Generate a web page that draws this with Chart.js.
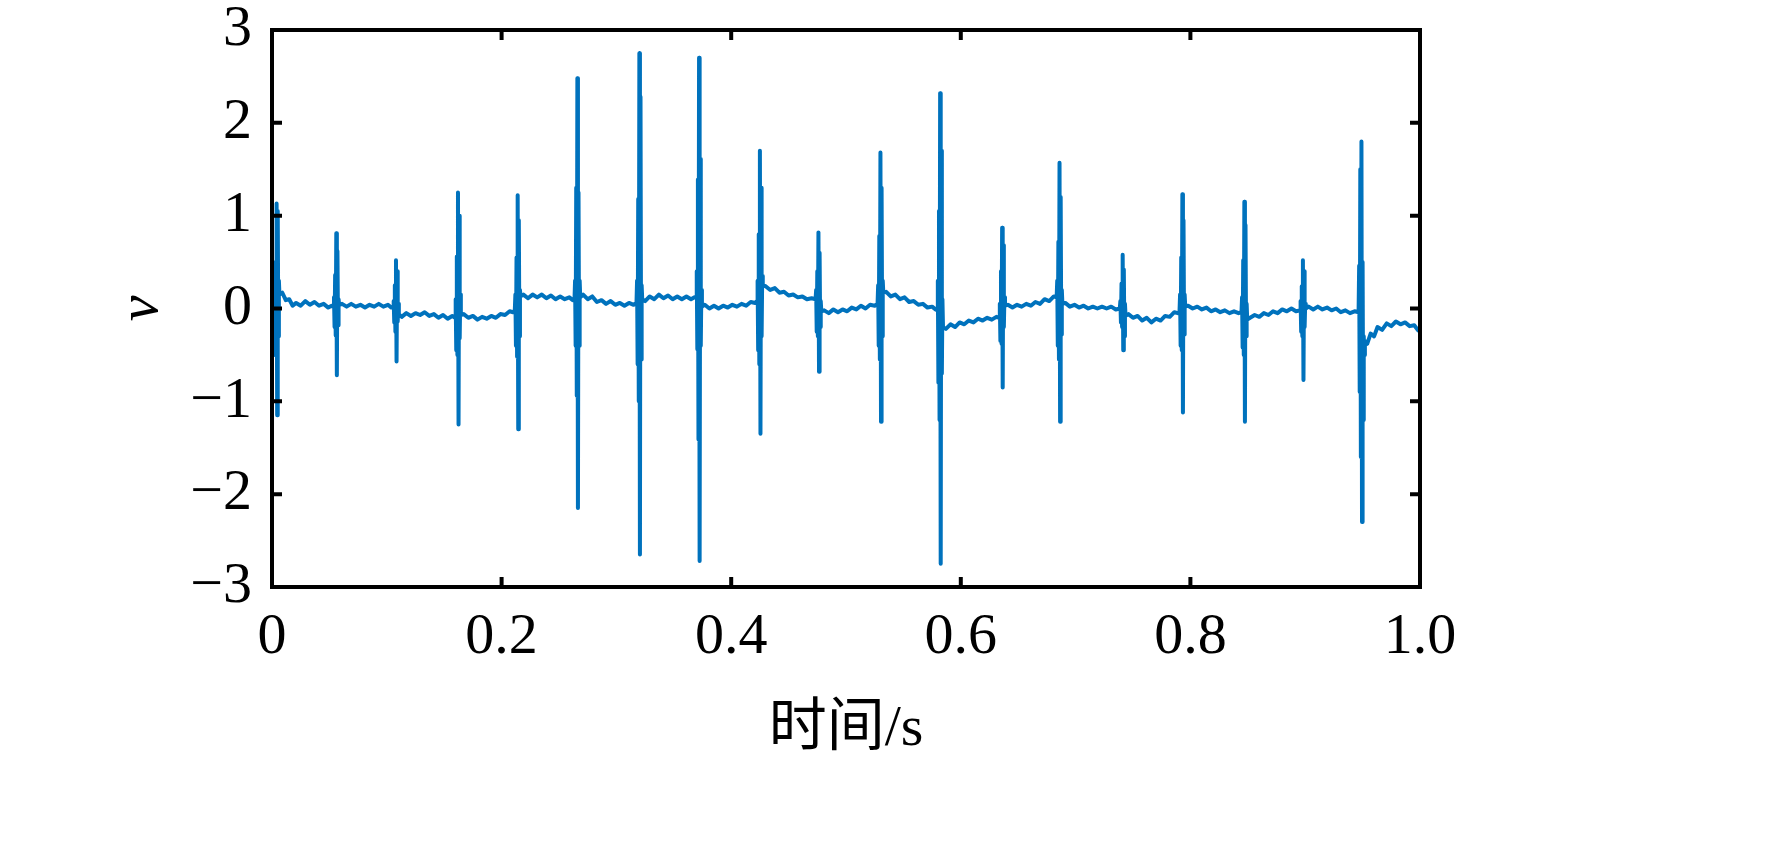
<!DOCTYPE html>
<html>
<head>
<meta charset="utf-8">
<script src="https://cdn.jsdelivr.net/npm/chart.js@4"></script>
<style>
  html, body { margin: 0; padding: 0; background: #fff; }
  #wrap { width: 1772px; height: 867px; }
</style>
</head>
<body>
<div id="wrap"><canvas id="c" width="1772" height="867"></canvas></div>
<script>
// ---- tick values / labels ----
const xTickValues = [0, 0.2, 0.4, 0.6, 0.8, 1.0];
const xTickLabels = ['0', '0.2', '0.4', '0.6', '0.8', '1.0'];
const yTickValues = [-3, -2, -1, 0, 1, 2, 3];
const yTickLabels = ['\u22123', '\u22122', '\u22121', '0', '1', '2', '3'];
const xTitle = '时间/s';
const yTitle = 'v';

// ---- signal samples [time s, amplitude] ----
const seg0 = [
  [0,-0.25],[0.001,-0.15],
  [0.0015,-0.1],[0.002,0.3],[0.0025,-0.5],[0.003,0.5],[0.0035,-0.45],[0.004,1.13],[0.0045,-1.15],[0.005,1.05],[0.0055,-0.3],[0.006,0.3],[0.0065,0.15],
  [0.009,0.17],[0.012,0.09],[0.015,0.1],[0.018,0.03],[0.021,0.06],[0.025,0.03],[0.029,0.08],[0.033,0.04],[0.037,0.07],[0.041,0.03],[0.045,0.05],[0.049,0.01],[0.052,0.03],
  [0.0535,0.02],[0.054,0.12],[0.0545,-0.2],[0.055,0.36],[0.0555,-0.29],[0.056,0.81],[0.0565,-0.72],[0.057,0.62],[0.0575,-0.18],[0.058,0.1],[0.0585,0.04],
  [0.061,0.05],[0.065,0.02],[0.069,0.05],[0.073,0.02],[0.077,0.04],[0.081,0.01],[0.085,0.04],[0.089,0.02],[0.093,0.05],[0.097,0.02],[0.101,0.04],[0.104,0.01],
  [0.1055,0.02],[0.106,0.08],[0.1065,-0.15],[0.107,0.25],[0.1075,-0.25],[0.108,0.52],[0.1085,-0.57],[0.109,0.4],[0.1095,-0.14],[0.11,0.05],[0.1105,-0.06],
  [0.113,-0.09],[0.117,-0.05],[0.121,-0.08],[0.125,-0.05],[0.129,-0.07],[0.133,-0.04],[0.137,-0.08],[0.141,-0.06],[0.145,-0.1],[0.149,-0.07],[0.153,-0.11],[0.157,-0.08],
  [0.1595,-0.1],[0.16,0.1],[0.1605,-0.45],[0.161,0.56],[0.1615,-0.5],[0.162,1.25],[0.1625,-1.25],[0.163,1.0],[0.1635,-0.32],[0.164,0.15],[0.1645,-0.07],
  [0.167,-0.06],[0.171,-0.1],[0.175,-0.08],[0.179,-0.12],[0.183,-0.09],[0.187,-0.11],[0.191,-0.08],[0.195,-0.1],[0.199,-0.06]
];
const seg1 = [
  [0.203,-0.07],[0.207,-0.03],[0.21,-0.04],
  [0.2115,-0.02],[0.212,0.15],[0.2125,-0.4],[0.213,0.55],[0.2135,-0.52],[0.214,1.22],[0.2145,-1.3],[0.215,0.95],[0.2155,-0.3],[0.216,0.2],[0.2165,0.13],
  [0.219,0.15],[0.223,0.11],[0.227,0.15],[0.231,0.12],[0.235,0.15],[0.239,0.11],[0.243,0.14],[0.247,0.1],[0.251,0.13],[0.255,0.1],[0.259,0.12],[0.262,0.09],
  [0.2635,0.1],[0.264,0.3],[0.2645,-0.4],[0.265,1.3],[0.2655,-0.94],[0.266,2.48],[0.2665,-2.15],[0.267,1.25],[0.2675,-0.4],[0.268,0.3],[0.2685,0.12],
  [0.271,0.15],[0.275,0.1],[0.279,0.13],[0.283,0.07],[0.287,0.09],[0.291,0.05],[0.295,0.08],[0.299,0.04],[0.303,0.06],[0.307,0.03],[0.311,0.06],[0.315,0.04],
  [0.3175,0.06],[0.318,0.3],[0.3185,-0.6],[0.319,1.18],[0.3195,-1.0],[0.32,2.75],[0.3205,-2.65],[0.321,2.28],[0.3215,-0.55],[0.322,0.25],[0.3225,0.1],
  [0.325,0.08],[0.329,0.13],[0.333,0.1],[0.337,0.15],[0.341,0.11],[0.345,0.14],[0.349,0.1],[0.353,0.13],[0.357,0.1],[0.361,0.13],[0.365,0.1],[0.368,0.12],
  [0.3695,0.12],[0.37,0.4],[0.3705,-0.44],[0.371,1.39],[0.3715,-1.41],[0.372,2.7],[0.3725,-2.72],[0.373,1.61],[0.3735,-0.4],[0.374,0.2],[0.3745,0.02],
  [0.377,0.04],[0.381,0.0],[0.385,0.03],[0.389,0.0],[0.393,0.03],[0.397,0.01]
];
const seg2 = [
  [0.401,0.04],[0.405,0.02],[0.409,0.05],[0.413,0.03],[0.417,0.07],[0.421,0.06],
  [0.4225,0.08],[0.423,0.3],[0.4235,-0.45],[0.424,0.8],[0.4245,-0.6],[0.425,1.7],[0.4255,-1.35],[0.426,1.3],[0.4265,-0.3],[0.427,0.35],[0.4275,0.25],
  [0.43,0.24],[0.434,0.2],[0.438,0.22],[0.442,0.17],[0.446,0.18],[0.45,0.14],[0.454,0.15],[0.458,0.12],[0.462,0.13],[0.466,0.1],[0.47,0.11],
  [0.4735,0.1],[0.474,0.2],[0.4745,-0.25],[0.475,0.4],[0.4755,-0.3],[0.476,0.82],[0.4765,-0.68],[0.477,0.6],[0.4775,-0.2],[0.478,0.08],[0.4785,-0.03],
  [0.481,-0.02],[0.485,-0.05],[0.489,-0.01],[0.493,-0.04],[0.497,-0.01],[0.501,-0.03],[0.505,0.01],[0.509,-0.01],[0.513,0.03],[0.517,0.0],[0.521,0.04],[0.525,0.03],
  [0.5275,0.05],[0.528,0.25],[0.5285,-0.4],[0.529,0.78],[0.5295,-0.55],[0.53,1.68],[0.5305,-1.22],[0.531,1.3],[0.5315,-0.3],[0.532,0.3],[0.5325,0.17],
  [0.535,0.18],[0.539,0.13],[0.543,0.15],[0.547,0.1],[0.551,0.12],[0.555,0.07],[0.559,0.08],[0.563,0.04],[0.567,0.05],[0.571,0.01],[0.575,0.02],[0.578,-0.01],
  [0.5795,-0.02],[0.58,0.3],[0.5805,-0.8],[0.581,1.05],[0.5815,-1.2],[0.582,2.32],[0.5825,-2.75],[0.583,1.7],[0.5835,-0.7],[0.584,0.1],[0.5845,-0.2],
  [0.587,-0.22],[0.591,-0.17],[0.595,-0.2],[0.599,-0.15]
];
const seg3 = [
  [0.603,-0.17],[0.607,-0.13],[0.611,-0.15],[0.615,-0.11],[0.619,-0.13],[0.623,-0.1],[0.627,-0.12],[0.631,-0.09],
  [0.6335,-0.1],[0.634,0.05],[0.6345,-0.35],[0.635,0.4],[0.6355,-0.38],[0.636,0.87],[0.6365,-0.85],[0.637,0.68],[0.6375,-0.2],[0.638,0.12],[0.6385,0.03],
  [0.641,0.04],[0.645,0.01],[0.649,0.04],[0.653,0.02],[0.657,0.05],[0.661,0.03],[0.665,0.07],[0.669,0.05],[0.673,0.1],[0.677,0.08],[0.681,0.13],
  [0.6835,0.12],[0.684,0.3],[0.6845,-0.4],[0.685,0.72],[0.6855,-0.55],[0.686,1.57],[0.6865,-1.22],[0.687,1.2],[0.6875,-0.28],[0.688,0.2],[0.6885,0.05],
  [0.691,0.06],[0.695,0.02],[0.699,0.04],[0.703,0.01],[0.707,0.03],[0.711,0.0],[0.715,0.02],[0.719,0.0],[0.723,0.02],[0.727,0.0],[0.731,0.02],[0.735,-0.01],
  [0.7385,0.0],[0.739,0.08],[0.7395,-0.15],[0.74,0.27],[0.7405,-0.2],[0.741,0.58],[0.7415,-0.45],[0.742,0.42],[0.7425,-0.3],[0.743,0.05],[0.7435,-0.08],
  [0.746,-0.06],[0.75,-0.1],[0.754,-0.08],[0.758,-0.13],[0.762,-0.1],[0.766,-0.15],[0.77,-0.11],[0.774,-0.13],[0.778,-0.08],[0.782,-0.09],[0.786,-0.04],[0.789,-0.05],
  [0.7905,-0.04],[0.791,0.15],[0.7915,-0.4],[0.792,0.55],[0.7925,-0.45],[0.793,1.23],[0.7935,-1.12],[0.794,0.95],[0.7945,-0.28],[0.795,0.15],[0.7955,0.02]
];
const seg4 = [
  [0.798,0.03],[0.802,0.0],[0.806,0.02],[0.81,-0.01],[0.814,0.01],[0.818,-0.03],[0.822,-0.01],[0.826,-0.04],[0.83,-0.02],[0.834,-0.05],[0.838,-0.03],[0.842,-0.05],
  [0.8445,-0.04],[0.845,0.12],[0.8455,-0.42],[0.846,0.52],[0.8465,-0.5],[0.847,1.15],[0.8475,-1.22],[0.848,0.9],[0.8485,-0.3],[0.849,0.05],[0.8495,-0.12],
  [0.852,-0.1],[0.856,-0.07],[0.86,-0.09],[0.864,-0.05],[0.868,-0.07],[0.872,-0.03],[0.876,-0.05],[0.88,-0.01],[0.884,-0.03],[0.888,0.0],[0.892,-0.03],
  [0.8955,-0.02],[0.896,0.08],[0.8965,-0.25],[0.897,0.24],[0.8975,-0.3],[0.898,0.52],[0.8985,-0.77],[0.899,0.4],[0.8995,-0.2],[0.9,0.05],[0.9005,0.0],
  [0.903,0.02],[0.907,-0.01],[0.911,0.02],[0.915,-0.01],[0.919,0.01],[0.923,-0.02],[0.927,0.0],[0.931,-0.04],[0.935,-0.02],[0.939,-0.05],[0.943,-0.03],
  [0.9465,-0.04],[0.947,0.46],[0.9475,-0.9],[0.948,1.5],[0.9485,-1.6],[0.949,1.8],[0.9495,-2.3],[0.95,0.5],[0.9505,-1.2],[0.951,-0.3],[0.9515,-0.5],[0.952,-0.35],
  [0.954,-0.38],[0.957,-0.27],[0.96,-0.3],[0.963,-0.2],[0.967,-0.23],[0.971,-0.16],[0.975,-0.19],[0.979,-0.14],[0.983,-0.17],[0.987,-0.15],[0.991,-0.19],[0.995,-0.18],[0.998,-0.23],[1.0,-0.25]
];

const points = [...seg0, ...seg1, ...seg2, ...seg3, ...seg4].map(([t, v]) => ({ x: t, y: v }));

const SERIF = "'Liberation Serif', 'Times New Roman', 'Noto Sans CJK SC', serif";
const tickFont = { family: SERIF, size: 58, lineHeight: 1 };

// inward ticks and box frame, positioned through the chart's own scales
const framePlugin = {
  id: 'frame',
  afterDraw(chart) {
    const { ctx, chartArea: a, scales } = chart;
    const len = 10;
    ctx.save();
    ctx.strokeStyle = '#000';
    ctx.lineWidth = 4;
    ctx.lineCap = 'butt';
    ctx.beginPath();
    xTickValues.forEach(v => {
      const px = scales.x.getPixelForValue(v);
      ctx.moveTo(px, a.bottom); ctx.lineTo(px, a.bottom - len);
      ctx.moveTo(px, a.top); ctx.lineTo(px, a.top + len);
    });
    yTickValues.forEach(v => {
      const py = scales.y.getPixelForValue(v);
      ctx.moveTo(a.left, py); ctx.lineTo(a.left + len, py);
      ctx.moveTo(a.right, py); ctx.lineTo(a.right - len, py);
    });
    ctx.stroke();
    ctx.strokeRect(a.left, a.top, a.right - a.left, a.bottom - a.top);
    ctx.restore();
  }
};

new Chart(document.getElementById('c'), {
  type: 'line',
  data: {
    datasets: [{
      data: points,
      borderColor: '#0072BD',
      borderWidth: 4,
      pointRadius: 0,
      tension: 0,
      fill: false,
      borderJoinStyle: 'round',
      borderCapStyle: 'round'
    }]
  },
  options: {
    responsive: false,
    animation: false,
    devicePixelRatio: 1,
    plugins: { legend: { display: false }, tooltip: { enabled: false } },
    layout: { padding: { left: 0, right: 352, top: 30, bottom: 0 } },
    scales: {
      x: {
        type: 'linear', min: 0, max: 1,
        afterBuildTicks: s => { s.ticks = xTickValues.map(v => ({ value: v })); },
        afterFit: s => { s.height = 280; s.paddingLeft = 0; s.paddingRight = 0; },
        ticks: {
          color: '#000', font: tickFont, padding: 22, maxRotation: 0, autoSkip: false,
          callback: (v, i) => xTickLabels[i]
        },
        grid: { display: false, drawTicks: false },
        border: { display: false },
        title: {
          display: true, text: xTitle, color: '#000',
          font: { family: SERIF, size: 58, lineHeight: 1.2 },
          padding: { top: 0, bottom: 102 }
        }
      },
      y: {
        type: 'linear', min: -3, max: 3,
        afterBuildTicks: s => { s.ticks = yTickValues.map(v => ({ value: v })); },
        afterFit: s => { s.width = 272; s.paddingTop = 0; s.paddingBottom = 0; },
        ticks: {
          color: '#000', font: tickFont, padding: 20, autoSkip: false,
          callback: (v, i) => yTickLabels[i]
        },
        grid: { display: false, drawTicks: false },
        border: { display: false },
        title: {
          display: true, text: yTitle, color: '#000',
          font: { family: SERIF, size: 58, style: 'italic', lineHeight: 1.2 },
          padding: { top: 107, bottom: 0 }
        }
      }
    }
  },
  plugins: [framePlugin]
});
</script>
</body>
</html>
